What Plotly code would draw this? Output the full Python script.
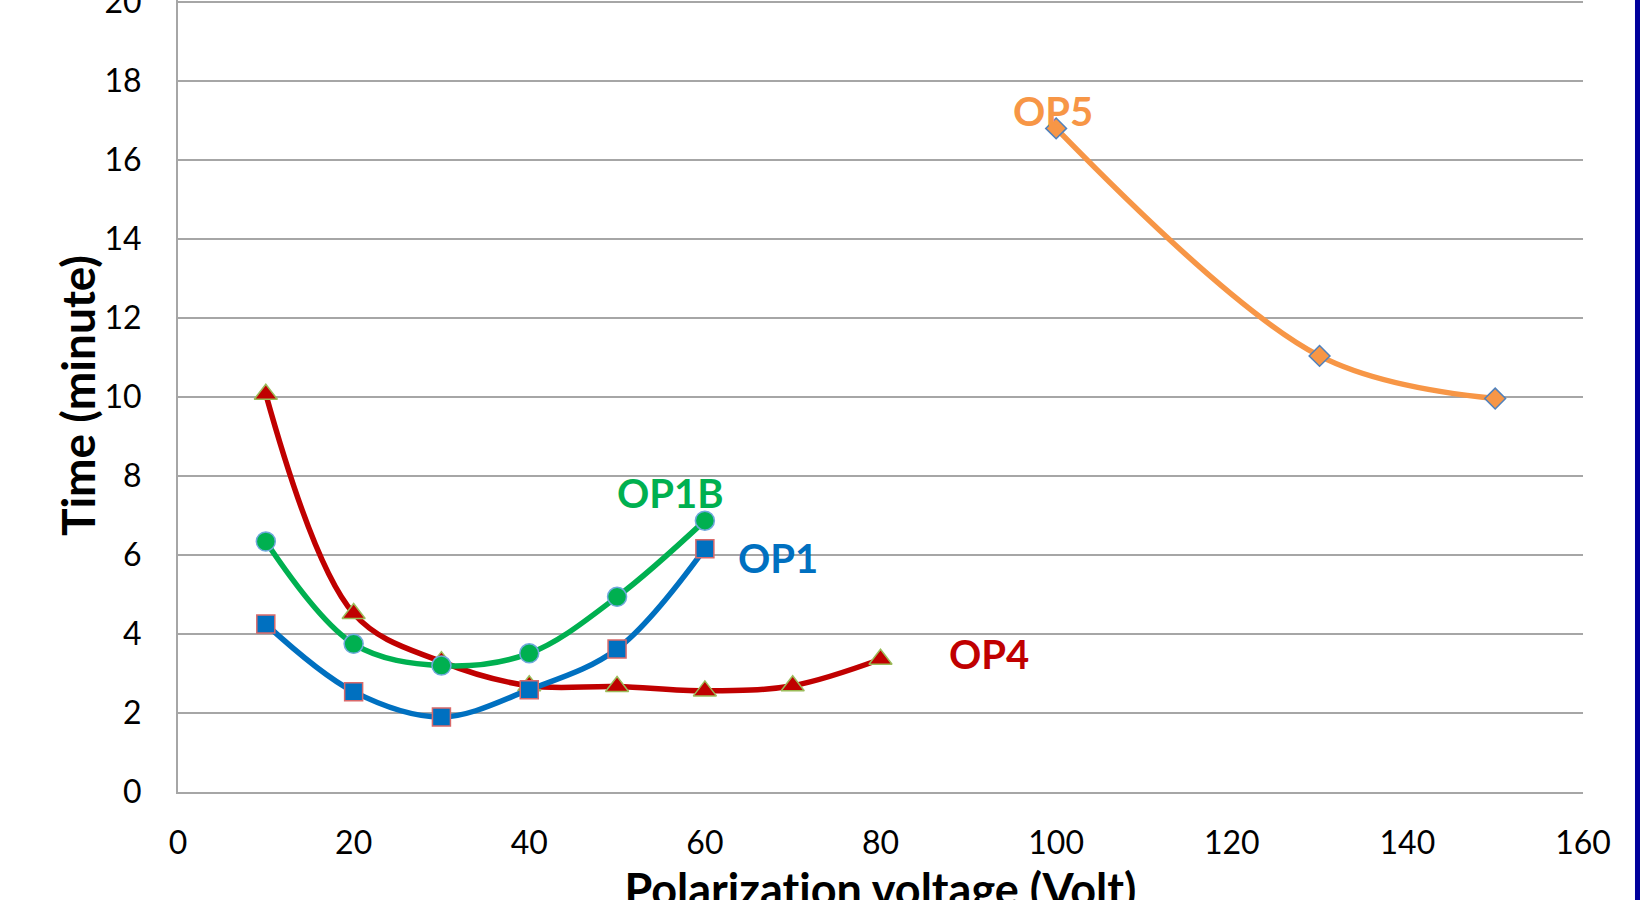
import plotly.graph_objects as go

# ---- data ----
op1_x = [10, 20, 30, 40, 50, 60]
op1_y = [4.25, 2.54, 1.90, 2.59, 3.62, 6.16]

op1b_x = [10, 20, 30, 40, 50, 60]
op1b_y = [6.34, 3.75, 3.20, 3.51, 4.94, 6.87]

op4_x = [10, 20, 30, 40, 50, 60, 70, 80]
op4_y = [10.07, 4.52, 3.30, 2.69, 2.67, 2.56, 2.69, 3.36]

op5_x = [100, 130, 150]
op5_y = [16.8, 11.04, 9.96]

series_names = ["OP1", "OP1B", "OP4", "OP5"]
label_x = [68.3, 56.1, 92.4, 99.6]
label_y = [5.92, 7.58, 3.49, 17.25]

x_ticks = [0, 20, 40, 60, 80, 100, 120, 140, 160]
y_ticks = [0, 2, 4, 6, 8, 10, 12, 14, 16, 18, 20]

x_title = "Polarization voltage (Volt)"
y_title = "Time (minute)"

FONT = "Lato"
BLUE = "#0070C0"
GREEN = "#00B050"
RED = "#C00000"
ORANGE = "#F79646"
LW = 5.5

fig = go.Figure()

fig.add_trace(go.Scatter(
    x=op4_x, y=op4_y, name="OP4", mode="lines+markers",
    line=dict(color=RED, width=LW, shape="spline", smoothing=1),
    marker=dict(symbol="triangle-up", size=20, color=RED,
                line=dict(color="#9BBB59", width=1.5)),
))
fig.add_trace(go.Scatter(
    x=op1_x, y=op1_y, name="OP1", mode="lines+markers",
    line=dict(color=BLUE, width=LW, shape="spline", smoothing=1),
    marker=dict(symbol="square", size=18, color=BLUE,
                line=dict(color="#D9696A", width=1.5)),
))
fig.add_trace(go.Scatter(
    x=op1b_x, y=op1b_y, name="OP1B", mode="lines+markers",
    line=dict(color=GREEN, width=LW, shape="spline", smoothing=1),
    marker=dict(symbol="circle", size=19, color=GREEN,
                line=dict(color="#6FA8DC", width=1.5)),
))
fig.add_trace(go.Scatter(
    x=op5_x, y=op5_y, name="OP5", mode="lines+markers",
    line=dict(color=ORANGE, width=LW, shape="spline", smoothing=1),
    marker=dict(symbol="diamond", size=16, color=ORANGE,
                line=dict(color="#4F81BD", width=1.5)),
))

label_colors = [BLUE, GREEN, RED, ORANGE]
for name, lx, ly, col in zip(series_names, label_x, label_y, label_colors):
    fig.add_annotation(x=lx, y=ly, text=f"<b>{name}</b>", showarrow=False,
                       font=dict(family=FONT, size=40, color=col),
                       xanchor="center", yanchor="middle")

# axis titles
fig.add_annotation(xref="paper", yref="paper", x=0.5, y=0, yshift=-97,
                   text=f"<b>{x_title}</b>", showarrow=False,
                   font=dict(family=FONT, size=45, color="black"),
                   xanchor="center", yanchor="middle")
fig.add_annotation(xref="paper", yref="paper", x=0, y=0.5, xshift=-101,
                   text=f"<b>{y_title}</b>", showarrow=False, textangle=-90,
                   font=dict(family=FONT, size=46, color="black"),
                   xanchor="center", yanchor="middle")

# blue strip at right edge
fig.add_shape(type="rect", xref="paper", yref="paper",
              x0=1.037, x1=1.045, y0=-0.3, y1=1.3,
              fillcolor="#00009C", line=dict(width=0), layer="above")

fig.update_layout(
    width=1640, height=900,
    margin=dict(l=178, r=57, t=0, b=108, autoexpand=False),
    paper_bgcolor="white", plot_bgcolor="white",
    showlegend=False,
    font=dict(family=FONT, size=32, color="black"),
)
fig.update_xaxes(
    range=[0, 160], tickvals=x_ticks, ticks="", showgrid=False,
    zeroline=False, showline=True, linecolor="#A6A6A6", linewidth=2,
    tickfont=dict(family=FONT, size=32, color="black"),
    ticklabelstandoff=22, ticklabeloverflow="allow",
)
fig.update_yaxes(
    range=[0, 20.05], tickvals=y_ticks, ticks="", showgrid=True,
    gridcolor="#A6A6A6", gridwidth=2, zeroline=False,
    showline=True, linecolor="#A6A6A6", linewidth=2,
    tickfont=dict(family=FONT, size=32, color="black"),
    ticklabelstandoff=28, ticklabeloverflow="allow",
)

post = (
    "document.body.style.margin='0';"
    "var st=document.createElement('style');"
    "st.textContent='text{font-variant-ligatures:none;font-feature-settings:\"liga\" 0,\"clig\" 0;}';"
    "document.head.appendChild(st);"
)
fig.write_html("out.html",
               config={"displayModeBar": False},
               post_script=post)
